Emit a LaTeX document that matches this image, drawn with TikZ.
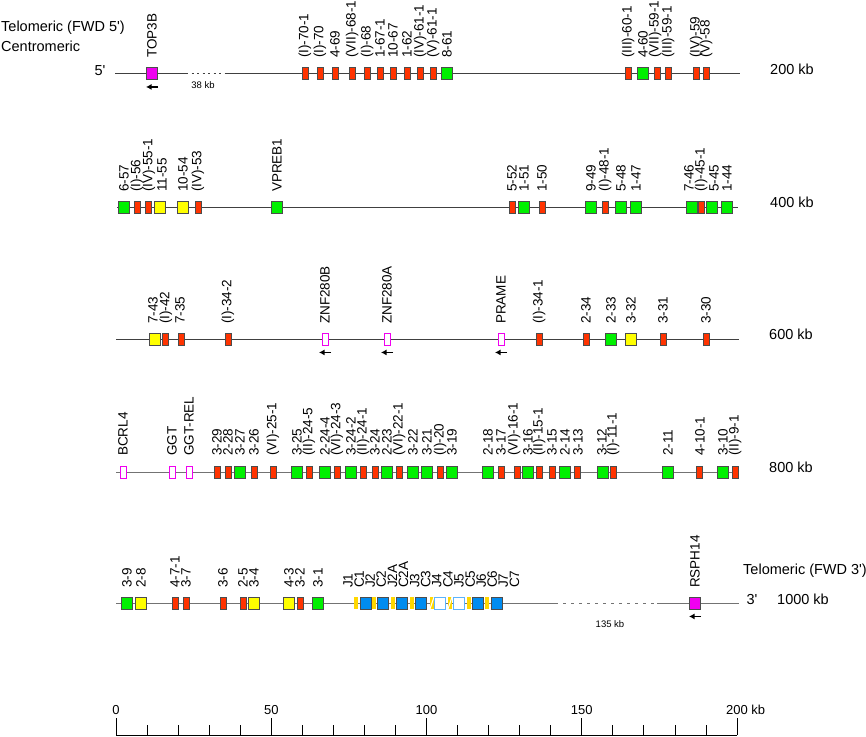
\documentclass[tikz,border=0pt]{standalone}
\usepackage{fontspec}
\setmainfont{Liberation Sans}
\usetikzlibrary{arrows.meta,positioning}

\definecolor{pseudored}{RGB}{255,51,0}
\definecolor{funcgreen}{RGB}{0,240,0}
\definecolor{orfyellow}{RGB}{255,255,0}
\definecolor{othermag}{RGB}{240,0,240}
\definecolor{cblue}{RGB}{0,140,240}
\definecolor{clight}{RGB}{90,180,255}
\definecolor{jgold}{RGB}{255,215,0}

\newcommand{\genefont}{\fontsize{13.5}{14}\selectfont}
\newcommand{\rowfont}{\fontsize{14.5}{16}\selectfont}
\newcommand{\gapfont}{\fontsize{9.5}{10}\selectfont}
\newcommand{\rulerfont}{\fontsize{13}{14}\selectfont}

\tikzset{
  gene/.style={draw=black!70, line width=0.9pt, inner sep=0pt, minimum height=12pt},
  wide/.style={gene, minimum width=11pt},
  narrow/.style={gene, minimum width=6pt},
  func/.style={wide, fill=funcgreen},
  orf/.style={wide, fill=orfyellow},
  pseudo/.style={narrow, fill=pseudored},
  other/.style={wide, fill=othermag},
  otherpseudo/.style={narrow, fill=white, draw=othermag},
  jseg/.style={inner sep=0pt, minimum width=4pt, minimum height=12pt, fill=jgold},
  jpseudo/.style={jseg, path picture={\draw[white, line width=1pt] (path picture bounding box.south west) -- (path picture bounding box.north east);}},
  cfunc/.style={wide, fill=cblue},
  cpseudo/.style={wide, fill=white, draw=clight},
  genelabel/.style={rotate=90, anchor=west, inner sep=0pt, font=\genefont},
  chrom/.style={black!75, line width=0.9pt},
  gap/.style={chrom, dash pattern=on 2pt off 3.5pt},
  strand/.style={line width=1.3pt, -{Latex[length=5.5pt,width=6pt]}},
  kblabel/.style={font=\rowfont, inner sep=0pt},
  rulertick/.style={line width=0.8pt}
}

\begin{document}
\begin{tikzpicture}[x=1pt,y=-1pt]
\useasboundingbox (0,0) rectangle (866,736);

% orientation
\node[kblabel, anchor=west] (telo5) at (1,28) {Telomeric (FWD 5\textquotesingle)};
\node[kblabel, anchor=west] (centro) at (1,46) {Centromeric};
\node[kblabel] (five) at (100,71) {5\textquotesingle};

% row 1
\coordinate (r1a) at (115,73);
\coordinate (r1b) at (186,73);
\coordinate (r1c) at (225,73);
\coordinate (r1d) at (740,73);
\draw[chrom] (r1a) -- (r1b);
\draw[gap] (r1b) -- (r1c);
\draw[chrom] (r1c) -- (r1d);
\node[font=\gapfont] (gap38) at (203,85) {38 kb};
\foreach \x/\lx/\kind/\lab [count=\i] in {152/152/other/TOP3B,
    305/305/pseudo/{(I)-70-1}, 320/320/pseudo/{(I)-70}, 335/335/pseudo/4-69,
    352/352/pseudo/{(VII)-68-1}, 367/367/pseudo/{(I)-68}, 380/380/pseudo/1-67-1,
    393/393/pseudo/10-67, 407/407/pseudo/1-62, 420/420/pseudo/{(IV)-61-1},
    433/433/pseudo/{(V)-61-1}, 447/447/func/8-61,
    628/628/pseudo/{(III)-60-1}, 643/643/func/4-60, 657/655/pseudo/{(VII)-59-1},
    668/668/pseudo/{(III)-59-1}, 696/696/pseudo/{(IV)-59}, 706/706/pseudo/{(V)-58}} {
  \node[\kind] (r1g\i) at (\x,73) {};
  \node[genelabel] (r1l\i) at (\lx,58) {\lab};
}
\coordinate[below=7.5pt of r1g1] (top3bdir);
\draw[strand] ([xshift=6pt]top3bdir) -- ([xshift=-6pt]top3bdir);
\node[kblabel] (kb200) at (792,69) {200 kb};

% row 2
\coordinate (r2a) at (117,207);
\coordinate (r2b) at (738,207);
\draw[chrom] (r2a) -- (r2b);
\foreach \x/\lx/\kind/\lab [count=\i] in {124/124/func/6-57,
    137/137/pseudo/{(I)-56}, 148/149/pseudo/{(IV)-55-1}, 160/162/orf/11-55,
    183/183/orf/10-54, 198/198/pseudo/{(IV)-53}, 277/277/func/VPREB1,
    512/512/pseudo/5-52, 524/524/func/1-51, 542/542/pseudo/1-50,
    591/591/func/9-49, 605/605/pseudo/{(I)-48-1}, 621/621/func/5-48,
    636/636/func/1-47, 692/689/func/7-46, 701/701/pseudo/{(I)-45-1},
    712/714/func/5-45, 727/727/func/1-44} {
  \node[\kind] (r2g\i) at (\x,207) {};
  \node[genelabel] (r2l\i) at (\lx,192) {\lab};
}
\node[kblabel] (kb400) at (792,202) {400 kb};

% row 3
\coordinate (r3a) at (116,339);
\coordinate (r3b) at (739,339);
\draw[chrom] (r3a) -- (r3b);
\foreach \x/\lx/\kind/\lab [count=\i] in {155/153/orf/7-43,
    165/166/pseudo/{(I)-42}, 181/180/pseudo/7-35, 228/228/pseudo/{(I)-34-2},
    325/325/otherpseudo/ZNF280B, 387/387/otherpseudo/ZNF280A,
    501/501/otherpseudo/PRAME, 539/539/pseudo/{(I)-34-1},
    586/586/pseudo/2-34, 611/611/func/2-33, 631/631/orf/3-32,
    663/663/pseudo/3-31, 706/706/pseudo/3-30} {
  \node[\kind] (r3g\i) at (\x,339) {};
  \node[genelabel] (r3l\i) at (\lx,324) {\lab};
}
\foreach \g in {5,6,7} {
  \coordinate[below=7pt of r3g\g] (r3dir\g);
  \draw[strand] ([xshift=6pt]r3dir\g) -- ([xshift=-6pt]r3dir\g);
}
\node[kblabel] (kb600) at (791,334) {600 kb};

% row 4
\coordinate (r4a) at (116,472);
\coordinate (r4b) at (739,472);
\draw[chrom, black!55] (r4a) -- (r4b);
\foreach \x/\lx/\kind/\lab [count=\i] in {123/123/otherpseudo/BCRL4,
    172/172/otherpseudo/GGT, 189/189/otherpseudo/GGT-REL,
    217/217/pseudo/3-29, 228/228/pseudo/2-28, 240/240/func/3-27,
    254/254/pseudo/3-26, 273/273/pseudo/{(VI)-25-1}, 297/297/func/3-25,
    309/309/pseudo/{(II)-24-5}, 325/325/func/2-24-4, 337/337/pseudo/{(VI)-24-3},
    351/351/func/3-24-2, 363/363/pseudo/{(II)-24-1}, 375/375/pseudo/3-24,
    387/387/func/2-23, 399/399/pseudo/{(VI)-22-1}, 413/413/func/3-22,
    427/427/func/3-21, 440/440/pseudo/{(I)-20}, 452/452/func/3-19,
    488/488/func/2-18, 501/501/pseudo/3-17, 517/514/pseudo/{(VI)-16-1},
    528/528/func/3-16, 539/539/pseudo/{(II)-15-1}, 552/552/pseudo/3-15,
    565/565/func/2-14, 577/578/pseudo/3-13, 603/602/func/3-12,
    613/613/pseudo/{(I)-11-1}, 668/668/func/2-11, 699/700/pseudo/4-10-1,
    723/723/func/3-10, 735/735/pseudo/{(II)-9-1}} {
  \node[\kind] (r4g\i) at (\x,472) {};
  \node[genelabel] (r4l\i) at (\lx,456) {\lab};
}
\node[kblabel] (kb800) at (791,467) {800 kb};

% row 5
\coordinate (r5a) at (116,603);
\coordinate (r5b) at (555,603);
\coordinate (r5c) at (657,603);
\coordinate (r5d) at (739,603);
\draw[chrom, black!55] (r5a) -- (r5b);
\draw[gap, black!55, dash pattern=on 3pt off 5pt] (r5b) -- (r5c);
\draw[chrom, black!55] (r5c) -- (r5d);
\node[font=\gapfont] (gap135) at (610,624) {135 kb};
\foreach \x/\lx/\kind/\lab [count=\i] in {127/127/func/3-9,
    141/141/orf/2-8, 175/175/pseudo/4-7-1, 186/186/pseudo/3-7,
    223/223/pseudo/3-6, 243/243/pseudo/2-5, 254/254/orf/3-4,
    289/289/orf/4-3, 300/300/pseudo/3-2, 318/318/func/3-1,
    356/348/jseg/J1, 366/359.1/cfunc/C1, 374/370.2/jseg/J2, 383/381.3/cfunc/C2,
    393/392.4/jseg/J2A, 402/403.5/cfunc/C2A, 412/414.6/jseg/J3, 421/425.7/cfunc/C3,
    432/436.8/jpseudo/J4, 440/447.9/cpseudo/C4, 450/459/jpseudo/J5,
    459/470.1/cpseudo/C5, 469/481.2/jseg/J6, 478/492.3/cfunc/C6,
    487/503.4/jseg/J7, 497/514.5/cfunc/C7, 695/695/other/RSPH14} {
  \node[\kind] (r5g\i) at (\x,603) {};
  \node[genelabel] (r5l\i) at (\lx,588) {\lab};
}
\coordinate[below=7pt of r5g27] (rsph14dir);
\draw[strand] ([xshift=6pt]rsph14dir) -- ([xshift=-6pt]rsph14dir);
\node[kblabel, anchor=west] (telo3) at (743,571) {Telomeric (FWD 3\textquotesingle)};
\node[kblabel] (three) at (752,599) {3\textquotesingle};
\node[kblabel] (kb1000) at (803,599) {1000 kb};

% ruler
\foreach \i in {0,...,20}
  \coordinate (t\i) at (116+31.05*\i,735);
\draw[rulertick] (t0) -- (t20);
\foreach \i in {0,...,20}
  \draw[rulertick] (t\i) -- ++(0,-10);
\foreach \i in {0,5,...,20}
  \draw[rulertick] (t\i) -- ++(0,-17);
\foreach \i/\v in {0/0,5/50,10/100,15/150}
  \node[font=\rulerfont, inner sep=0pt] (n\v) at ([yshift=25pt]t\i) {\v};
\node[font=\rulerfont, inner sep=0pt] (n200) at ([yshift=25pt]t20) {200\rlap{ kb}};
\end{tikzpicture}
\end{document}
